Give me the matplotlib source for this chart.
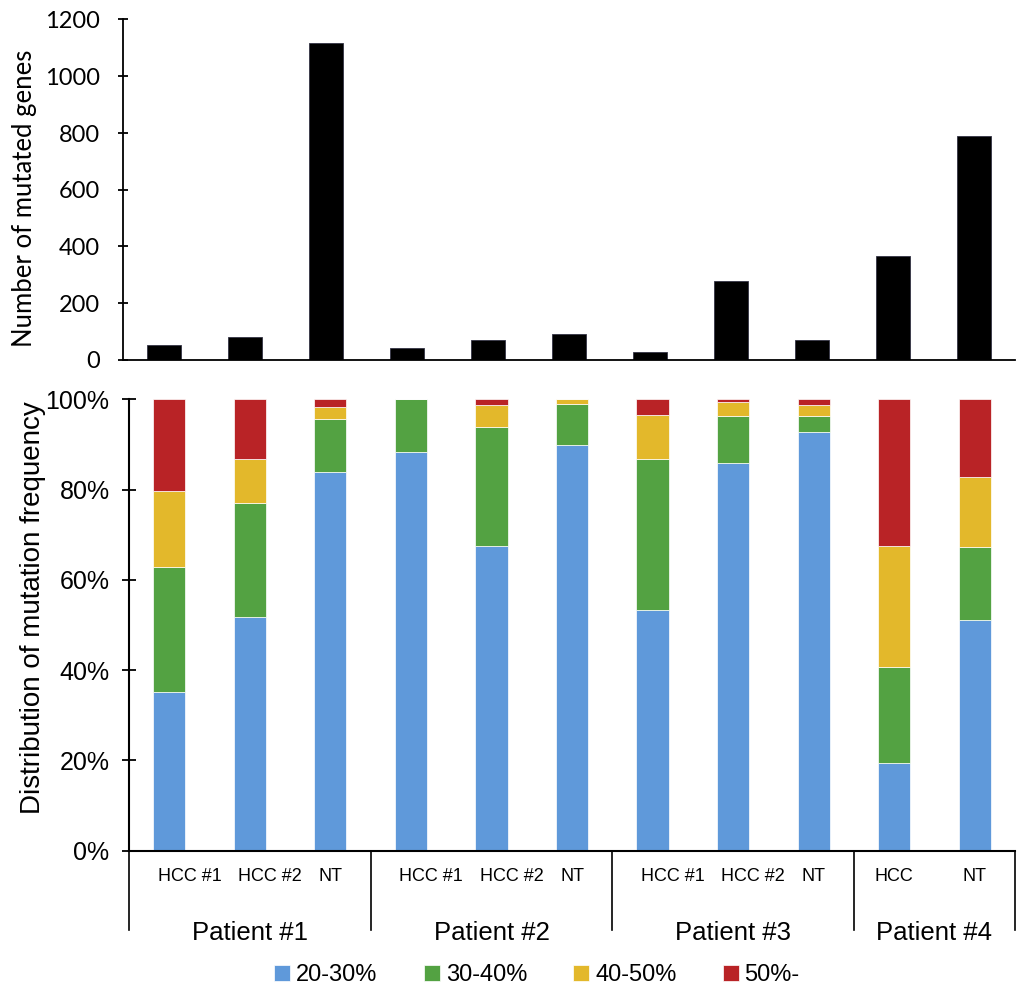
import matplotlib.pyplot as plt
from matplotlib.patches import Patch
from matplotlib.transforms import blended_transform_factory

samples = ["HCC #1", "HCC #2", "NT", "HCC #1", "HCC #2", "NT",
           "HCC #1", "HCC #2", "NT", "HCC", "NT"]
patients = ["Patient #1", "Patient #2", "Patient #3", "Patient #4"]
group_sizes = [3, 3, 3, 2]

mutated_genes = [52, 80, 1116, 41, 69, 92, 29, 277, 69, 366, 788]

freq_bins = ["20-30%", "30-40%", "40-50%", "50%-"]
pct_20_30 = [35.1, 51.8, 84.0, 88.4, 67.5, 89.9, 53.3, 85.9, 92.8, 19.5, 51.2]
pct_30_40 = [27.8, 25.3, 11.6, 11.6, 26.3, 9.1, 33.4, 10.5, 3.6, 21.3, 16.1]
pct_40_50 = [16.7, 9.6, 2.8, 0.0, 5.0, 1.0, 9.9, 3.0, 2.3, 26.8, 15.5]
pct_50_up = [20.4, 13.3, 1.6, 0.0, 1.2, 0.0, 3.4, 0.6, 1.3, 32.4, 17.2]

colors = ["#5F99DA", "#53A242", "#E3B82B", "#B92326"]

W, H = 1019, 988
fig = plt.figure(figsize=(W / 100, H / 100), dpi=100)
x = list(range(len(samples)))

# top panel: counts
ax1 = fig.add_axes([123.3 / W, 1 - 360 / H, (1015 - 123.3) / W, (360 - 19.5) / H])
ax1.bar(x, mutated_genes, width=0.42, color="black", edgecolor="#333344", linewidth=0.6)
ax1.set_xlim(-0.5, 10.5)
ax1.set_ylim(0, 1200)
ax1.set_yticks(range(0, 1201, 200))
ax1.set_xticks([])
for s in ["top", "right"]:
    ax1.spines[s].set_visible(False)
for s in ["left", "bottom"]:
    ax1.spines[s].set_linewidth(1.3)
ax1.tick_params(axis="y", direction="inout", length=7.2, width=1.3, pad=13, labelsize=17)
for lab in ax1.get_yticklabels():
    lab.set_family("Lato")
fig.text(25 / W, 1 - 198 / H, "Number of mutated genes", rotation=90,
         ha="center", va="center", fontsize=18.5, family="Lato")

# bottom panel: stacked percentages
ax2 = fig.add_axes([129 / W, 1 - 850.7 / H, (1015 - 129) / W, (850.7 - 399.3) / H])
bottom = [0.0] * len(samples)
for vals, c in zip([pct_20_30, pct_30_40, pct_40_50, pct_50_up], colors):
    ax2.bar(x, vals, bottom=bottom, width=0.40, color=c, edgecolor="white", linewidth=0.5)
    bottom = [b + v for b, v in zip(bottom, vals)]
ax2.set_xlim(-0.5, 10.5)
ax2.set_ylim(0, 100)
ax2.set_yticks(range(0, 101, 20))
ax2.set_yticklabels([f"{v}%" for v in range(0, 101, 20)], family="Liberation Sans")
ax2.set_xticks([])
for s in ["top", "right"]:
    ax2.spines[s].set_visible(False)
for s in ["left", "bottom"]:
    ax2.spines[s].set_linewidth(1.5)
ax2.tick_params(axis="y", direction="inout", length=10, width=1.3, pad=9, labelsize=18)
fig.text(33 / W, 1 - 608 / H, "Distribution of mutation frequency", rotation=90,
         ha="center", va="center", fontsize=20, family="Liberation Sans")

trans = blended_transform_factory(ax2.transData, ax2.transAxes)
for i, s in enumerate(samples):
    xi = i + 0.25 if s.startswith("HCC #") else i
    ax2.text(xi, -0.058, s, transform=trans, ha="center", va="center",
             fontsize=13, family="Liberation Sans")

start = -0.5
edges = [start]
for n in group_sizes:
    edges.append(edges[-1] + n)
for e in edges:
    ax2.plot([e, e], [0, -0.175], transform=trans, color="black", lw=1.2, clip_on=False)
for p, a, b in zip(patients, edges[:-1], edges[1:]):
    ax2.text((a + b) / 2, -0.183, p, transform=trans, ha="center", va="center",
             fontsize=18.5, family="Liberation Sans")

handles = [Patch(facecolor=c, edgecolor="white", linewidth=0.5) for c in colors]
fig.legend(handles, freq_bins, loc="center", bbox_to_anchor=(537 / W, 1 - 975 / H),
           ncol=4, frameon=False, handlelength=0.68, handleheight=0.68,
           handletextpad=0.25, columnspacing=1.95, borderpad=0,
           prop={"family": "Liberation Sans", "size": 17})

fig.savefig("out.png", dpi=100)
